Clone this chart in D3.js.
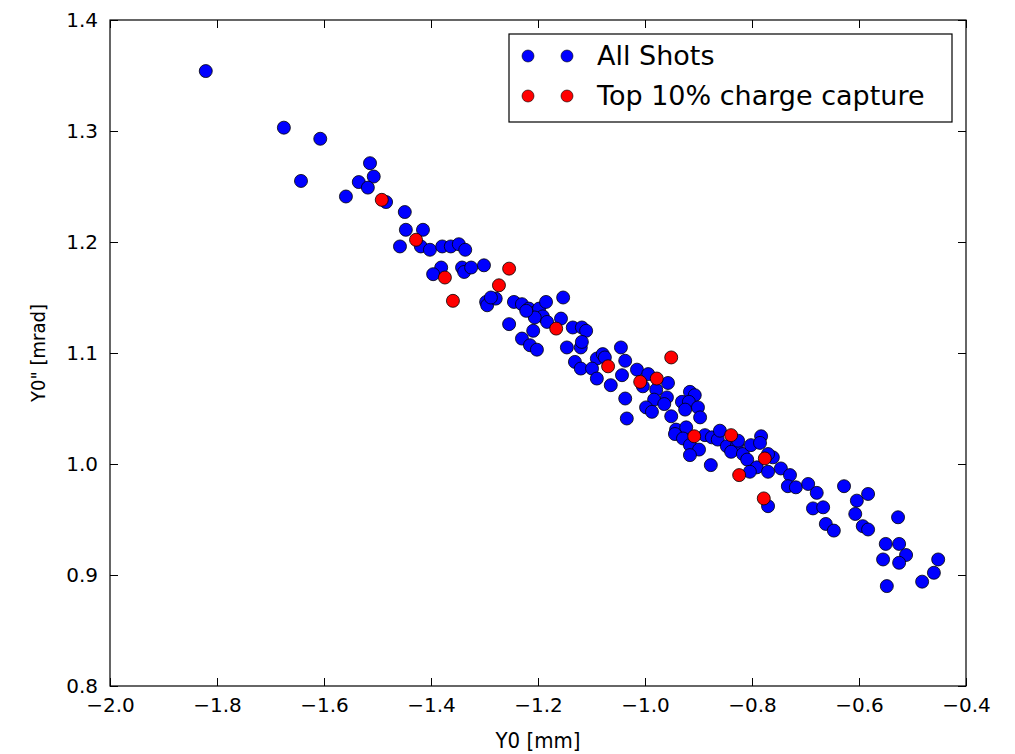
<!DOCTYPE html>
<html>
<head>
<meta charset="utf-8">
<script src="https://cdn.jsdelivr.net/npm/d3@7/dist/d3.min.js"></script>
<style>
  html, body { margin: 0; padding: 0; background: #fff; }
  svg text { font-family: "DejaVu Sans", sans-serif; fill: #000; }
</style>
</head>
<body>
<svg id="chart" width="1015" height="754"></svg>
<script>
// ---- Data (Y0 [mm], Y0'' [mrad]) ----
const allShotsX = [
  -1.821,-1.675,-1.607,-1.514,-1.507,-1.535,-1.518,-1.643,-1.559,-1.484,
  -1.449,-1.447,-1.415,-1.458,-1.419,-1.402,-1.379,-1.363,-1.348,-1.336,
  -1.381,-1.396,-1.342,-1.338,-1.325,-1.301,-1.297,-1.295,-1.279,-1.288,
  -1.245,-1.230,-1.254,-1.217,-1.209,-1.198,-1.185,-1.153,-1.191,-1.206,
  -1.183,-1.157,-1.135,-1.118,-1.110,-1.209,-1.230,-1.215,-1.202,-1.146,
  -1.120,-1.118,-1.045,-1.131,-1.120,-1.090,-1.079,-1.075,-1.099,-1.037,
  -1.043,-1.090,-1.064,-1.015,-0.994,-0.957,-1.004,-0.979,-0.983,-0.959,
  -1.037,-0.964,-0.998,-0.987,-0.951,-1.034,-0.916,-0.907,-0.931,-0.918,
  -0.925,-0.901,-0.897,-0.942,-0.923,-0.944,-0.929,-0.916,-0.899,-0.916,
  -0.877,-0.888,-0.875,-0.864,-0.860,-0.847,-0.828,-0.839,-0.826,-0.817,
  -0.809,-0.802,-0.783,-0.785,-0.761,-0.770,-0.791,-0.770,-0.804,-0.746,
  -0.729,-0.733,-0.718,-0.695,-0.679,-0.686,-0.667,-0.770,-0.662,-0.647,
  -0.628,-0.604,-0.583,-0.607,-0.593,-0.583,-0.527,-0.550,-0.525,-0.512,
  -0.555,-0.525,-0.452,-0.460,-0.482,-0.548,-1.222
];
const allShotsY = [
  1.354,1.303,1.293,1.271,1.259,1.254,1.249,1.255,1.241,1.236,
  1.227,1.211,1.211,1.196,1.196,1.193,1.196,1.196,1.198,1.193,
  1.177,1.171,1.177,1.173,1.177,1.179,1.146,1.143,1.149,1.150,
  1.146,1.144,1.126,1.140,1.136,1.140,1.146,1.150,1.133,1.132,
  1.128,1.131,1.123,1.123,1.120,1.120,1.113,1.107,1.103,1.105,
  1.105,1.110,1.105,1.092,1.086,1.095,1.099,1.096,1.086,1.093,
  1.080,1.077,1.071,1.085,1.081,1.073,1.070,1.067,1.058,1.060,
  1.059,1.054,1.051,1.047,1.043,1.041,1.065,1.062,1.056,1.056,
  1.049,1.051,1.042,1.031,1.033,1.027,1.023,1.017,1.013,1.008,
  0.999,1.026,1.024,1.022,1.030,1.016,1.017,1.011,1.021,1.009,
  1.004,1.017,1.025,1.019,1.006,1.009,0.997,0.993,0.993,0.996,
  0.990,0.980,0.979,0.982,0.974,0.960,0.961,0.962,0.946,0.940,
  0.980,0.967,0.973,0.955,0.944,0.941,0.952,0.928,0.928,0.918,
  0.914,0.911,0.914,0.902,0.894,0.890,1.138
];
const topX = [-1.492,-1.428,-1.374,-1.359,-1.273,-1.254,-1.166,-1.069,
              -1.009,-0.978,-0.951,-0.908,-0.839,-0.824,-0.776,-0.778];
const topY = [1.238,1.202,1.168,1.147,1.161,1.176,1.122,1.088,
              1.074,1.077,1.096,1.025,1.026,0.990,1.005,0.969];

const seriesNames = ["All Shots", "Top 10% charge capture"];
const seriesColors = ["#0000ff", "#ff0000"];
const xTicks = [-2.0,-1.8,-1.6,-1.4,-1.2,-1.0,-0.8,-0.6,-0.4];
const yTicks = [0.8,0.9,1.0,1.1,1.2,1.3,1.4];
const xLabel = "Y0 [mm]";
const yLabel = "Y0\" [mrad]";

// ---- Layout ----
const svg = d3.select("#chart");
const L = 110, R = 966, T = 20, B = 686;
const x = d3.scaleLinear().domain([-2.0, -0.4]).range([L, R]);
const y = d3.scaleLinear().domain([0.8, 1.4]).range([B, T]);
const fmt = d3.format(".1f");
const TICK = 8;

// axes
const gx = svg.append("g").attr("transform", `translate(0,${B})`)
  .call(d3.axisBottom(x).tickValues(xTicks).tickFormat(fmt).tickSizeInner(-TICK).tickSizeOuter(0).tickPadding(12));
const gy = svg.append("g").attr("transform", `translate(${L},0)`)
  .call(d3.axisLeft(y).tickValues(yTicks).tickFormat(fmt).tickSizeInner(-TICK).tickSizeOuter(0).tickPadding(12));
const gxt = svg.append("g").attr("transform", `translate(0,${T})`)
  .call(d3.axisTop(x).tickValues(xTicks).tickFormat("").tickSizeInner(-TICK).tickSizeOuter(0));
const gyr = svg.append("g").attr("transform", `translate(${R},0)`)
  .call(d3.axisRight(y).tickValues(yTicks).tickFormat("").tickSizeInner(-TICK).tickSizeOuter(0));
[gx, gy, gxt, gyr].forEach(g => {
  g.select(".domain").remove();
  g.selectAll("line").attr("stroke", "#000").attr("stroke-width", 1);
  g.selectAll("text").attr("font-size", 20).attr("font-family", "DejaVu Sans").attr("fill", "#000");
});

// frame
svg.append("rect").attr("x", L).attr("y", T).attr("width", R - L).attr("height", B - T)
  .attr("fill", "none").attr("stroke", "#000").attr("stroke-width", 1.2);

// points
const blue = allShotsX.map((v, i) => ({x: v, y: allShotsY[i]}));
const red = topX.map((v, i) => ({x: v, y: topY[i]}));
svg.append("clipPath").attr("id", "clip").append("rect")
  .attr("x", L).attr("y", T).attr("width", R - L).attr("height", B - T);
const pg = svg.append("g").attr("clip-path", "url(#clip)");
pg.selectAll("circle.b").data(blue).join("circle").attr("class", "b")
  .attr("cx", d => x(d.x)).attr("cy", d => y(d.y)).attr("r", 6.5)
  .attr("fill", seriesColors[0]).attr("stroke", "#000").attr("stroke-width", 0.8);
pg.selectAll("circle.r").data(red).join("circle").attr("class", "r")
  .attr("cx", d => x(d.x)).attr("cy", d => y(d.y)).attr("r", 6.5)
  .attr("fill", seriesColors[1]).attr("stroke", "#000").attr("stroke-width", 0.8);

// axis labels
svg.append("text").attr("x", (L + R) / 2).attr("y", 748).attr("text-anchor", "middle")
  .attr("font-size", 22).style("font-stretch", "condensed").text(xLabel);
svg.append("text").attr("transform", `translate(45,${(T + B) / 2}) rotate(-90)`)
  .attr("text-anchor", "middle").attr("font-size", 20).style("font-stretch", "condensed").text(yLabel);

// legend
const lg = svg.append("g");
lg.append("rect").attr("x", 509).attr("y", 34).attr("width", 443).attr("height", 88)
  .attr("fill", "#fff").attr("stroke", "#000").attr("stroke-width", 1.2);
seriesNames.forEach((name, i) => {
  const cy = 56 + i * 40;
  [528, 567].forEach(cx => {
    lg.append("circle").attr("cx", cx).attr("cy", cy).attr("r", 6)
      .attr("fill", seriesColors[i]).attr("stroke", "#000").attr("stroke-width", 0.6);
  });
  lg.append("text").attr("x", 597).attr("y", cy + 9).attr("font-size", 27).text(name);
});
</script>
</body>
</html>
